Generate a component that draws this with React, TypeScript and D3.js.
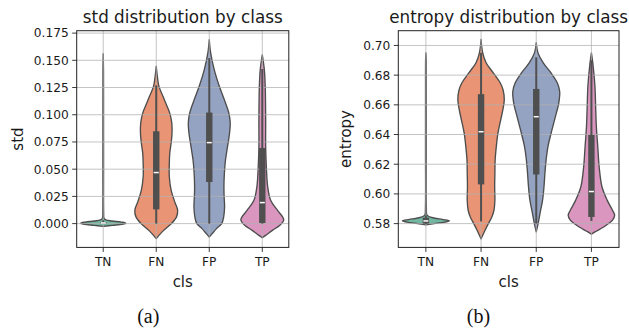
import React from "react";
import * as d3 from "d3";

const categories = ["TN", "FN", "FP", "TP"];

const stdTicks = [0, 0.025, 0.05, 0.075, 0.1, 0.125, 0.15, 0.175];
const entropyTicks = [0.58, 0.6, 0.62, 0.64, 0.66, 0.68, 0.7];

// Violin density profiles: [value, relative half-width]
const stdTN = [
  [-0.0026, 0], [-0.0016, 0.4], [-0.0006, 0.85], [0.0004, 1.0], [0.0014, 0.8],
  [0.0024, 0.4], [0.0034, 0.12], [0.005, 0.035], [0.01, 0.02], [0.05, 0.016],
  [0.1, 0.015], [0.14, 0.013], [0.156, 0],
];
const stdFN = [
  [-0.0138, 0], [-0.0108, 0.12], [-0.0062, 0.33], [0, 0.67], [0.0062, 0.9],
  [0.0123, 0.95], [0.02, 0.82], [0.0308, 0.66], [0.043, 0.58], [0.0554, 0.58],
  [0.0646, 0.6], [0.0738, 0.66], [0.083, 0.7], [0.0923, 0.69], [0.1015, 0.6],
  [0.1107, 0.42], [0.1169, 0.3], [0.126, 0.12], [0.135, 0.05], [0.1445, 0],
];
const stdFP = [
  [-0.0123, 0], [-0.0092, 0.13], [-0.0046, 0.32], [0, 0.55], [0.0062, 0.64],
  [0.0154, 0.68], [0.0246, 0.66], [0.0338, 0.65], [0.0461, 0.67], [0.0584, 0.72],
  [0.0707, 0.81], [0.083, 0.9], [0.0923, 0.93], [0.1015, 0.87], [0.1138, 0.67],
  [0.126, 0.45], [0.1415, 0.22], [0.157, 0.06], [0.169, 0],
];
const stdTP = [
  [-0.0129, 0], [-0.0108, 0.15], [-0.0062, 0.45], [-0.0015, 0.78], [0.0031, 0.95],
  [0.0062, 0.9], [0.0123, 0.67], [0.0215, 0.37], [0.0338, 0.24], [0.0523, 0.18],
  [0.0707, 0.15], [0.0953, 0.15], [0.126, 0.13], [0.1415, 0.09], [0.155, 0],
];

const entTN = [
  [0.5792, 0], [0.58, 0.35], [0.581, 0.8], [0.5819, 1.0], [0.5828, 0.7],
  [0.5838, 0.35], [0.5848, 0.13], [0.586, 0.04], [0.59, 0.02], [0.63, 0.016],
  [0.67, 0.015], [0.69, 0.012], [0.695, 0],
];
const entFN = [
  [0.5697, 0], [0.5755, 0.17], [0.58, 0.31], [0.5845, 0.46], [0.589, 0.55],
  [0.5958, 0.59], [0.6048, 0.58], [0.6138, 0.59], [0.6228, 0.6], [0.6319, 0.65],
  [0.6409, 0.72], [0.65, 0.84], [0.6567, 0.93], [0.6634, 0.99], [0.67, 0.94],
  [0.6747, 0.82], [0.6815, 0.52], [0.6882, 0.22], [0.695, 0.07], [0.704, 0],
];
const entFP = [
  [0.5744, 0], [0.58, 0.08], [0.5868, 0.16], [0.5958, 0.27], [0.6048, 0.33],
  [0.6138, 0.37], [0.6228, 0.42], [0.6319, 0.5], [0.6431, 0.67], [0.6522, 0.82],
  [0.6612, 0.96], [0.669, 1.0], [0.6747, 0.9], [0.6815, 0.63], [0.6882, 0.3],
  [0.695, 0.075], [0.7018, 0],
];
const entTP = [
  [0.5728, 0], [0.5744, 0.15], [0.5777, 0.52], [0.5823, 0.9], [0.5856, 0.99],
  [0.589, 0.9], [0.5958, 0.67], [0.6048, 0.45], [0.6183, 0.33], [0.6319, 0.27],
  [0.6454, 0.21], [0.659, 0.18], [0.6725, 0.15], [0.686, 0.075], [0.695, 0],
];

// Box stats: [whiskerLow, q1, median, q3, whiskerHigh]
const stdBoxes = [
  [0, 0.0002, 0.0006, 0.0013, 0.003],
  [0, 0.0131, 0.0469, 0.0848, 0.127],
  [0, 0.0382, 0.0744, 0.102, 0.152],
  [0, 0.0006, 0.0193, 0.0695, 0.142],
];
const entBoxes = [
  [0.5798, 0.5801, 0.5818, 0.584, 0.5855],
  [0.5815, 0.6064, 0.6419, 0.6672, 0.695],
  [0.58, 0.6131, 0.652, 0.6707, 0.692],
  [0.5818, 0.5845, 0.6016, 0.6397, 0.69],
];

const palette = ["#72b7a1", "#e99575", "#95a3c3", "#db96c0"];
const FONT = "DejaVu Sans, Verdana, sans-serif";

type PanelProps = {
  x0: number; x1: number; y0: number; y1: number;
  domain: [number, number]; ticks: number[]; fmt: string;
  violins: number[][][]; boxes: number[][];
  title: string; ylabel: string; ylabelX: number;
};

function Panel(p: PanelProps) {
  const x = d3.scalePoint<string>().domain(categories).range([p.x0, p.x1]).padding(0.5);
  const y = d3.scaleLinear().domain(p.domain).range([p.y1, p.y0]);
  const band = x.step();
  const hw = band * 0.425;
  const f = d3.format(p.fmt);
  const cxMid = (p.x0 + p.x1) / 2;
  const cyMid = (p.y0 + p.y1) / 2;
  return (
    <g>
      {p.violins.map((v, i) => {
        const cx = x(categories[i]) as number;
        const area = d3
          .area<number[]>()
          .y((d) => y(d[0]))
          .x0((d) => cx - d[1] * hw)
          .x1((d) => cx + d[1] * hw)
          .curve(d3.curveCatmullRom.alpha(0.5));
        return (
          <path key={"v" + i} d={area(v) || ""} fill={palette[i]} stroke="#4d4d4d" strokeWidth={1.35} strokeLinejoin="round" />
        );
      })}
      {/* grid */}
      {p.ticks.map((t) => (
        <line key={"gy" + t} x1={p.x0} x2={p.x1} y1={y(t)} y2={y(t)} stroke="#b0b0b0" strokeOpacity={0.75} strokeWidth={1} />
      ))}
      {categories.map((c) => (
        <line key={"gx" + c} x1={x(c)} x2={x(c)} y1={p.y0} y2={p.y1} stroke="#b0b0b0" strokeOpacity={0.75} strokeWidth={1} />
      ))}
      {/* boxes */}
      {p.boxes.map((b, i) => {
        const cx = x(categories[i]) as number;
        return (
          <g key={"b" + i}>
            <line x1={cx} x2={cx} y1={y(b[0])} y2={y(b[4])} stroke="#4f4f4f" strokeWidth={2} />
            <rect x={cx - 3.2} width={6.4} y={y(b[3])} height={Math.max(1, y(b[1]) - y(b[3]))} fill="#4f4f4f" />
            <line x1={cx - 2.5} x2={cx + 2.5} y1={y(b[2])} y2={y(b[2])} stroke="#fff" strokeWidth={1.5} />
          </g>
        );
      })}
      {/* frame */}
      <rect x={p.x0} y={p.y0} width={p.x1 - p.x0} height={p.y1 - p.y0} fill="none" stroke="#222" strokeWidth={1} />
      {/* y ticks */}
      {p.ticks.map((t) => (
        <g key={"ty" + t}>
          <line x1={p.x0 - 4.5} x2={p.x0} y1={y(t)} y2={y(t)} stroke="#222" strokeWidth={0.9} />
          <text x={p.x0 - 8} y={y(t)} dy="0.36em" textAnchor="end" fontSize={12.2} fontFamily={FONT} fill="#1a1a1a">
            {f(t)}
          </text>
        </g>
      ))}
      {/* x ticks */}
      {categories.map((c) => (
        <g key={"tx" + c}>
          <line x1={x(c)} x2={x(c)} y1={p.y1} y2={p.y1 + 4.5} stroke="#222" strokeWidth={0.9} />
          <text x={x(c)} y={p.y1 + 18.5} textAnchor="middle" fontSize={12.2} fontFamily={FONT} fill="#1a1a1a">
            {c}
          </text>
        </g>
      ))}
      <text x={cxMid} y={286.5} textAnchor="middle" fontSize={15} fontFamily={FONT} fill="#1a1a1a">cls</text>
      <text transform={`translate(${p.ylabelX},${cyMid}) rotate(-90)`} textAnchor="middle" fontSize={15} fontFamily={FONT} fill="#1a1a1a">
        {p.ylabel}
      </text>
      <text x={cxMid} y={23.3} textAnchor="middle" fontSize={16.8} fontFamily={FONT} fill="#1a1a1a">{p.title}</text>
    </g>
  );
}

export default function App() {
  return (
    <svg width={629} height={328} style={{ position: "absolute", left: 0, top: 0, background: "#fff" }}>
      <rect width={629} height={328} fill="#fff" />
      <Panel
        x0={76.7} x1={288.8} y0={30.7} y1={247.4}
        domain={[-0.02185, 0.1772]} ticks={stdTicks} fmt=".3f"
        violins={[stdTN, stdFN, stdFP, stdTP]} boxes={stdBoxes}
        title="std distribution by class" ylabel="std" ylabelX={23.3}
      />
      <Panel
        x0={398.3} x1={619} y0={30.7} y1={247.4}
        domain={[0.56398, 0.70993]} ticks={entropyTicks} fmt=".2f"
        violins={[entTN, entFN, entFP, entTP]} boxes={entBoxes}
        title="entropy distribution by class" ylabel="entropy" ylabelX={350.5}
      />
      <text x={148.3} y={322.5} textAnchor="middle" fontSize={20} fontFamily="Liberation Serif, Times New Roman, serif" fill="#111">(a)</text>
      <text x={478.5} y={322.5} textAnchor="middle" fontSize={20} fontFamily="Liberation Serif, Times New Roman, serif" fill="#111">(b)</text>
    </svg>
  );
}
